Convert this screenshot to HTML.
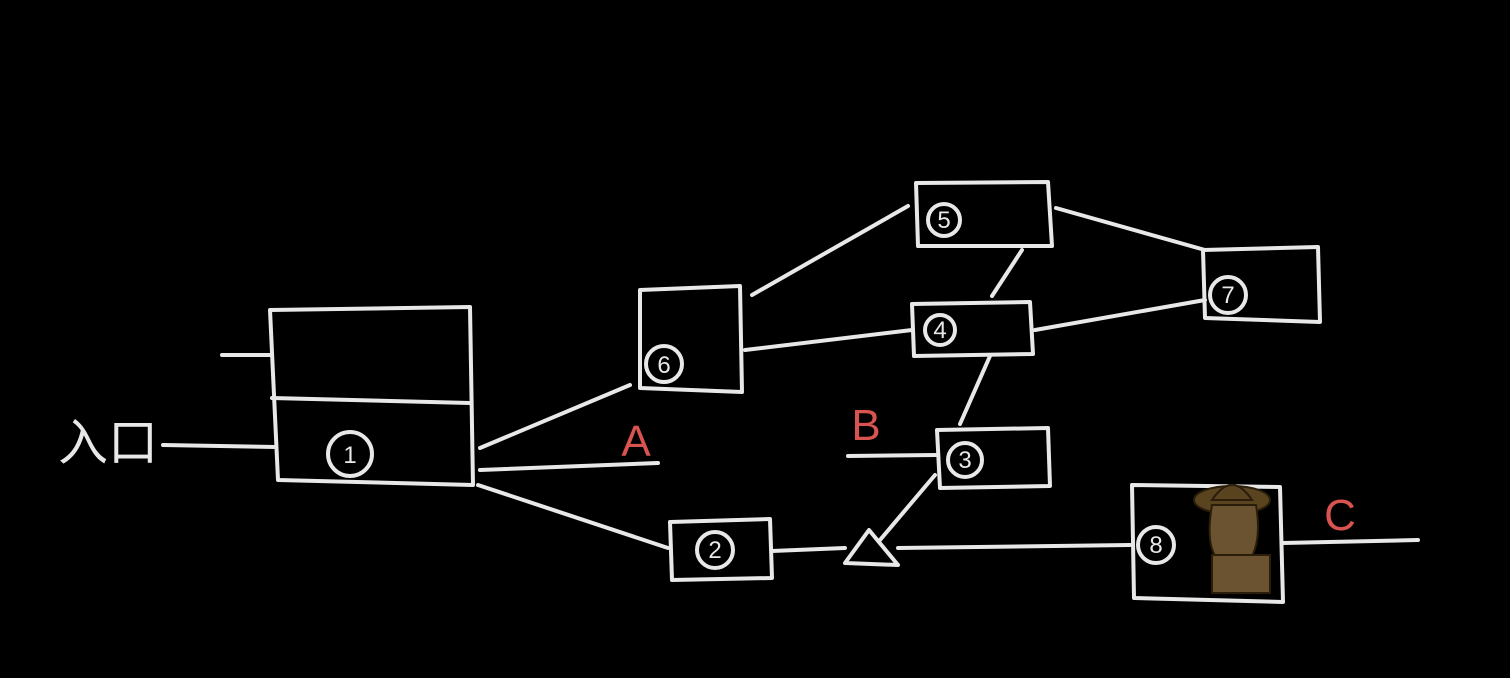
<!DOCTYPE html>
<html><head><meta charset="utf-8"><style>
html,body{margin:0;padding:0;background:#000;}
svg{display:block}
</style></head><body>
<svg width="1510" height="678" viewBox="0 0 1510 678" xmlns="http://www.w3.org/2000/svg">
<rect width="1510" height="678" fill="#000"/>
<text x="58" y="460" font-family="Liberation Sans, Noto Sans CJK SC, sans-serif" font-size="50" fill="#e8e8e8">入口</text>
<g stroke="#e8e8e8" stroke-width="4" fill="none" stroke-linecap="round" stroke-linejoin="round">
<line x1="163" y1="445" x2="275" y2="447"/>
<line x1="222" y1="355" x2="270" y2="355"/>
<path d="M270 310 L470 307 L473 485 L278 480 Z"/>
<line x1="272" y1="398" x2="470" y2="403"/>
<circle cx="350" cy="454" r="22"/>
<line x1="480" y1="448" x2="630" y2="385"/>
<line x1="480" y1="470" x2="658" y2="463"/>
<line x1="478" y1="485" x2="668" y2="548"/>
<path d="M640 290 L740 286 L742 392 L640 388 Z"/>
<circle cx="664" cy="364" r="18"/>
<line x1="752" y1="295" x2="908" y2="206"/>
<line x1="745" y1="350" x2="912" y2="330"/>
<path d="M916 183 L1048 182 L1052 246 L918 246 Z"/>
<circle cx="944" cy="220" r="16"/>
<path d="M912 304 L1030 302 L1033 354 L914 356 Z"/>
<circle cx="940" cy="330" r="15"/>
<path d="M937 430 L1048 428 L1050 486 L940 488 Z"/>
<circle cx="965" cy="460" r="17"/>
<path d="M1203 250 L1318 247 L1320 322 L1205 318 Z"/>
<circle cx="1228" cy="295" r="18"/>
<line x1="1056" y1="208" x2="1205" y2="250"/>
<line x1="1035" y1="330" x2="1205" y2="300"/>
<line x1="1022" y1="250" x2="992" y2="296"/>
<line x1="990" y1="356" x2="960" y2="424"/>
<line x1="848" y1="456" x2="937" y2="455"/>
<line x1="935" y1="475" x2="880" y2="540"/>
<path d="M845 563 L869 530 L898 565 Z"/>
<path d="M670 522 L770 519 L772 578 L672 580 Z"/>
<circle cx="715" cy="550" r="18"/>
<line x1="772" y1="551" x2="845" y2="548"/>
<line x1="898" y1="548" x2="1130" y2="545"/>
<path d="M1132 485 L1280 487 L1283 602 L1134 598 Z"/>
<circle cx="1156" cy="545" r="18"/>
<line x1="1283" y1="543" x2="1418" y2="540"/>
</g>
<g fill="#5a4420" stroke="#2a1d0a" stroke-width="2">
<ellipse cx="1232" cy="500" rx="38" ry="14"/>
<path d="M1212 500 Q1232 470 1252 500 Z"/>
<path d="M1212 505 Q1205 545 1218 560 L1250 560 Q1262 540 1256 505 Z" fill="#6b5230"/>
<rect x="1212" y="555" width="58" height="38" fill="#6b5230"/>
</g>
<g font-family="Liberation Sans, sans-serif" fill="#e8e8e8" font-size="24" text-anchor="middle">
<text x="350" y="463">1</text>
<text x="664" y="373">6</text>
<text x="944" y="228">5</text>
<text x="940" y="338">4</text>
<text x="965" y="468">3</text>
<text x="1228" y="303">7</text>
<text x="715" y="558">2</text>
<text x="1156" y="553">8</text>
</g>
<g font-family="Liberation Sans, sans-serif" fill="#d9534f" font-size="44" text-anchor="middle">
<text x="636" y="456">A</text>
<text x="866" y="440">B</text>
<text x="1340" y="530">C</text>
</g>
</svg>
</body></html>
